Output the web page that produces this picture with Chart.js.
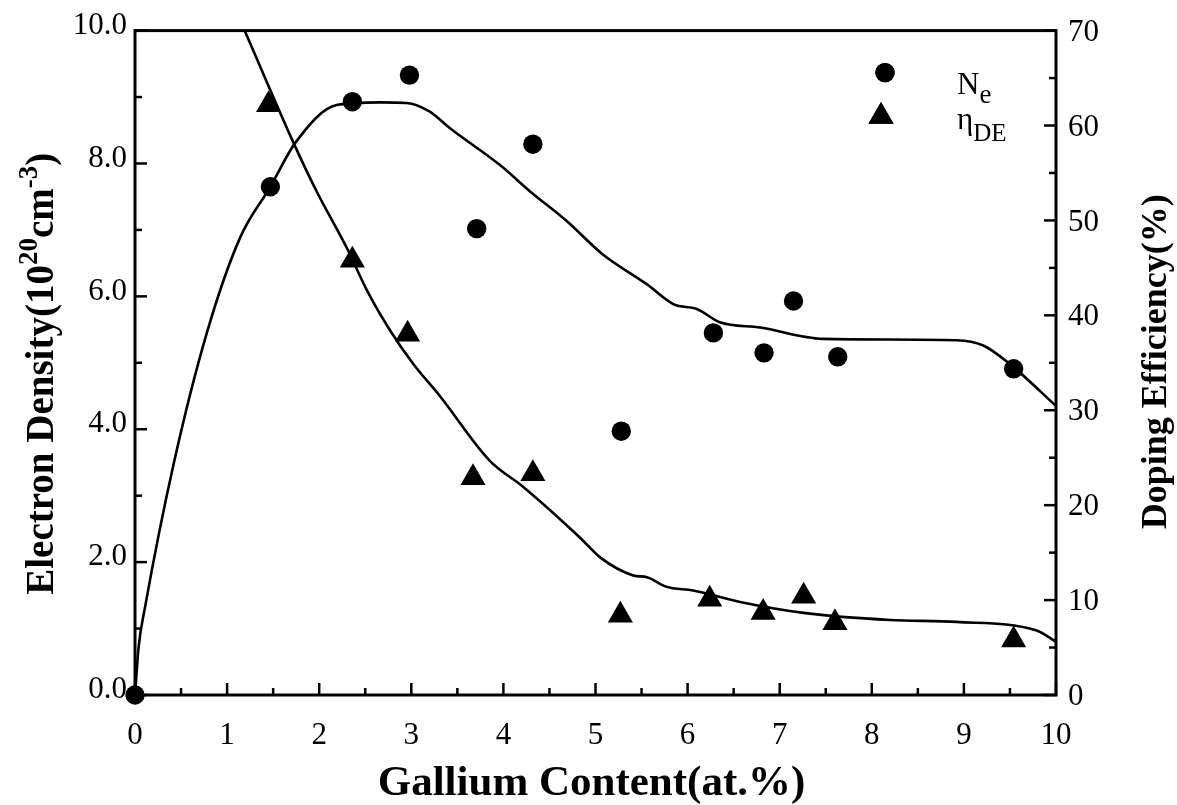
<!DOCTYPE html>
<html>
<head>
<meta charset="utf-8">
<script src="https://cdn.jsdelivr.net/npm/chart.js@4.4.1/dist/chart.umd.min.js"></script>
<style>
  html, body { margin: 0; padding: 0; background: #fff; }
  #wrap { width: 1177px; height: 805px; position: relative; }
</style>
</head>
<body>
<div id="wrap"><canvas id="c" width="1177" height="805"></canvas></div>
<script>
// Measured electron density N_e (10^20 cm^-3) vs gallium content (at.%)
const galliumNe = [0.00, 1.47, 2.36, 2.98, 3.71, 4.32, 5.28, 6.28, 6.83, 7.15, 7.63, 9.54];
const electronDensity = [0.00, 7.65, 8.93, 9.33, 7.02, 8.29, 3.97, 5.45, 5.15, 5.93, 5.09, 4.91];

// Measured doping efficiency eta_DE (%) vs gallium content (at.%)
const galliumEta = [1.45, 2.36, 2.96, 3.67, 4.32, 5.27, 6.24, 6.82, 7.26, 7.60, 9.54];
const dopingEfficiency = [62.2, 45.8, 38.0, 22.9, 23.3, 8.4, 10.1, 8.7, 10.4, 7.6, 5.8];

// Guide-to-the-eye curve through N_e
const neFitX = [0.00, 0.04, 0.11, 0.42, 0.78, 1.14, 1.47, 1.74, 2.19, 2.66, 2.95, 3.20, 3.42, 3.96, 4.29, 4.69, 5.08, 5.56, 5.85, 6.10, 6.35, 6.79, 7.47, 8.92, 9.21, 9.50, 10.00];
const neFitY = [0.00, 0.73, 1.33, 3.48, 5.45, 6.88, 7.65, 8.31, 8.88, 8.92, 8.91, 8.78, 8.53, 7.98, 7.58, 7.13, 6.63, 6.18, 5.88, 5.81, 5.61, 5.53, 5.36, 5.34, 5.26, 4.98, 4.35];

// Guide-to-the-eye curve through eta_DE
const etaFitX = [1.19, 1.72, 1.97, 2.30, 2.52, 2.77, 3.02, 3.31, 3.85, 4.22, 4.83, 5.05, 5.41, 5.56, 5.77, 6.06, 6.57, 7.26, 8.20, 8.92, 9.79, 10.00];
const etaFitY = [70.0, 58.2, 53.1, 47.1, 42.6, 38.4, 34.9, 31.5, 24.7, 21.9, 16.6, 14.5, 12.6, 12.4, 11.4, 11.0, 9.8, 8.65, 7.9, 7.7, 6.8, 5.6];

// Axis ticks
const xTicks = [0, 1, 2, 3, 4, 5, 6, 7, 8, 9, 10];
const xTickLabels = ['0', '1', '2', '3', '4', '5', '6', '7', '8', '9', '10'];
const xMinorTicks = [0.5, 1.5, 2.5, 3.5, 4.5, 5.5, 6.5, 7.5, 8.5, 9.5];
const leftTicks = [0, 2, 4, 6, 8, 10];
const leftTickLabels = ['0.0', '2.0', '4.0', '6.0', '8.0', '10.0'];
const leftMinorTicks = [1, 3, 5, 7, 9];
const rightTicks = [0, 10, 20, 30, 40, 50, 60, 70];
const rightTickLabels = ['0', '10', '20', '30', '40', '50', '60', '70'];
const rightMinorTicks = [5, 15, 25, 35, 45, 55, 65];

const SERIF = '"Liberation Serif", "Times New Roman", "DejaVu Serif", serif';
const INK = '#000';

// Draws a run of text pieces (normal / superscript / subscript) as one line.
function drawRich(ctx, parts, x, y, rotation, size, bold, align) {
  ctx.save();
  ctx.translate(x, y);
  ctx.rotate(rotation);
  const fontFor = p => {
    const s = p.size || ((p.sup || p.sub) ? Math.round(size * 0.68) : size);
    return (bold ? 'bold ' : '') + s + 'px ' + SERIF;
  };
  let total = 0;
  parts.forEach(p => { ctx.font = fontFor(p); p.w = ctx.measureText(p.t).width; total += p.w; });
  let cx = align === 'center' ? -total / 2 : 0;
  ctx.textBaseline = 'alphabetic';
  ctx.textAlign = 'left';
  ctx.fillStyle = INK;
  parts.forEach(p => {
    ctx.font = fontFor(p);
    const dy = p.dy !== undefined ? p.dy : (p.sup ? -size * 0.42 : (p.sub ? size * 0.25 : 0));
    ctx.fillText(p.t, cx, dy);
    cx += p.w;
  });
  ctx.restore();
}

// Box frame and inward tick marks
const framePlugin = {
  id: 'frame',
  beforeDatasetsDraw(chart) {
    const { ctx, chartArea: a, scales } = chart;
    ctx.save();
    ctx.strokeStyle = INK;
    ctx.lineCap = 'square';
    ctx.lineWidth = 3;
    ctx.strokeRect(a.left, a.top, a.right - a.left, a.bottom - a.top);
    ctx.lineWidth = 2.5;
    ctx.lineCap = 'butt';
    const MAJ = 12, MIN = 7;
    const tick = (x1, y1, x2, y2) => { ctx.beginPath(); ctx.moveTo(x1, y1); ctx.lineTo(x2, y2); ctx.stroke(); };
    xTicks.forEach(v => { const px = scales.x.getPixelForValue(v); tick(px, a.bottom, px, a.bottom - MAJ); });
    xMinorTicks.forEach(v => { const px = scales.x.getPixelForValue(v); tick(px, a.bottom, px, a.bottom - MIN); });
    leftTicks.forEach(v => { const py = scales.y.getPixelForValue(v); tick(a.left, py, a.left + MAJ, py); });
    leftMinorTicks.forEach(v => { const py = scales.y.getPixelForValue(v); tick(a.left, py, a.left + MIN, py); });
    rightTicks.forEach(v => { const py = scales.y2.getPixelForValue(v); tick(a.right, py, a.right - MAJ, py); });
    rightMinorTicks.forEach(v => { const py = scales.y2.getPixelForValue(v); tick(a.right, py, a.right - MIN, py); });
    ctx.restore();
  }
};

// Axis titles and the symbol key
const textPlugin = {
  id: 'texts',
  afterDraw(chart) {
    const { ctx, chartArea: a } = chart;
    const midX = (a.left + a.right) / 2;
    const midY = (a.top + a.bottom) / 2;
    drawRich(ctx, [{ t: 'Gallium Content(at.%)' }], midX - 4, 795, 0, 43, true, 'center');
    drawRich(ctx, [
      { t: 'Electron Density(10' }, { t: '20', sup: true }, { t: 'cm' }, { t: '-3', sup: true }, { t: ')' }
    ], 53, midY + 11, -Math.PI / 2, 39, true, 'center');
    drawRich(ctx, [{ t: 'Doping Efficiency(%)' }], 1166, midY - 1, -Math.PI / 2, 36, true, 'center');

    // key: marker symbols
    ctx.save();
    ctx.fillStyle = INK;
    Chart.helpers.drawPoint(ctx, { pointStyle: 'circle', radius: 9.7, borderWidth: 0 }, a.right - 171, a.top + 42);
    ctx.fill();
    ctx.restore();
    ctx.save();
    ctx.fillStyle = INK;
    Chart.helpers.drawPoint(ctx, { pointStyle: 'triangle', radius: 14.5, borderWidth: 0 }, a.right - 175, a.top + 86);
    ctx.fill();
    ctx.restore();
    // key: labels
    drawRich(ctx, [{ t: 'N' }, { t: 'e', size: 27, dy: 9 }], a.right - 99, a.top + 63, 0, 31, false, 'left');
    drawRich(ctx, [{ t: '\u03b7' }, { t: 'DE', size: 25, dy: 12 }], a.right - 99, a.top + 98, 0, 31, false, 'left');
  }
};

const tickFont = { family: SERIF, size: 31 };

const cfg = {
  type: 'scatter',
  data: {
    datasets: [
      {
        label: 'N_e',
        data: galliumNe.map((x, i) => ({ x, y: electronDensity[i] })),
        yAxisID: 'y',
        pointStyle: 'circle',
        pointRadius: 9.7,
        backgroundColor: INK,
        borderWidth: 0,
        showLine: false,
        clip: false,
        order: 1
      },
      {
        label: 'eta_DE',
        data: galliumEta.map((x, i) => ({ x, y: dopingEfficiency[i] })),
        yAxisID: 'y2',
        pointStyle: 'triangle',
        pointRadius: 14.5,
        backgroundColor: INK,
        borderWidth: 0,
        showLine: false,
        clip: false,
        order: 1
      },
      {
        label: 'N_e curve',
        data: neFitX.map((x, i) => ({ x, y: neFitY[i] })),
        yAxisID: 'y',
        showLine: true,
        pointRadius: 0,
        borderColor: INK,
        borderWidth: 2.6,
        cubicInterpolationMode: 'monotone',
        fill: false,
        order: 2
      },
      {
        label: 'eta_DE curve',
        data: etaFitX.map((x, i) => ({ x, y: etaFitY[i] })),
        yAxisID: 'y2',
        showLine: true,
        pointRadius: 0,
        borderColor: INK,
        borderWidth: 2.6,
        cubicInterpolationMode: 'monotone',
        fill: false,
        order: 2
      }
    ]
  },
  options: {
    responsive: false,
    animation: false,
    events: [],
    layout: { padding: { top: 29, left: 0, right: 0, bottom: 0 } },
    plugins: { legend: { display: false }, tooltip: { enabled: false }, title: { display: false } },
    scales: {
      x: {
        type: 'linear', position: 'bottom', min: 0, max: 10,
        afterBuildTicks: s => { s.ticks = xTicks.map(v => ({ value: v })); },
        afterFit: s => { s.height = 110; },
        ticks: { callback: (v, i) => xTickLabels[i], font: tickFont, color: INK, padding: 22, maxRotation: 0, autoSkip: false },
        grid: { display: false, drawTicks: false },
        border: { display: false }
      },
      y: {
        type: 'linear', position: 'left', min: 0, max: 10,
        afterBuildTicks: s => { s.ticks = leftTicks.map(v => ({ value: v })); },
        afterFit: s => { s.width = 135; },
        ticks: { callback: (v, i) => leftTickLabels[i], font: tickFont, color: INK, padding: 8, labelOffset: -5, autoSkip: false },
        grid: { display: false, drawTicks: false },
        border: { display: false }
      },
      y2: {
        type: 'linear', position: 'right', min: 0, max: 70,
        afterBuildTicks: s => { s.ticks = rightTicks.map(v => ({ value: v })); },
        afterFit: s => { s.width = 121; },
        ticks: { callback: (v, i) => rightTickLabels[i], font: tickFont, color: INK, padding: 12, labelOffset: 2, autoSkip: false },
        grid: { display: false, drawTicks: false },
        border: { display: false }
      }
    }
  },
  plugins: [framePlugin, textPlugin]
};

new Chart(document.getElementById('c'), cfg);
</script>
</body>
</html>
